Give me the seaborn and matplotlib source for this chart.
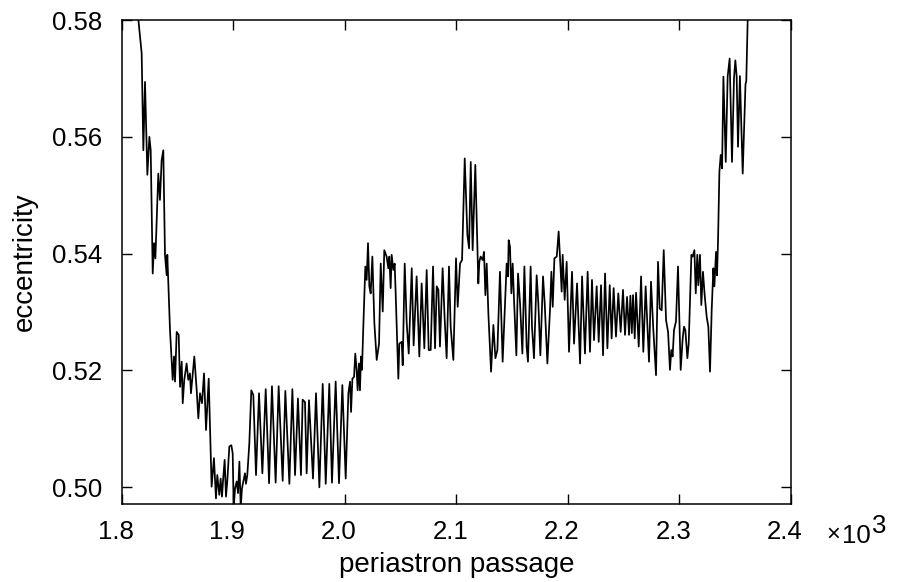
import numpy as np
import pandas as pd
import seaborn as sns
import matplotlib
matplotlib.use("Agg")
import matplotlib.pyplot as plt
from matplotlib.transforms import ScaledTranslation

# ---------------- data ----------------
passage_a = [1812.0, 1817.9, 1819.4, 1820.9, 1823.0, 1824.8, 1826.0, 1827.8, 1829.0, 1830.2,
             1832.8, 1834.3, 1835.8, 1837.3, 1838.8, 1840.3, 1840.9, 1843.3, 1845.7, 1846.9,
             1847.8, 1849.3, 1851.1, 1852.3, 1853.8, 1854.7, 1856.1, 1858.2, 1859.7, 1861.2,
             1862.1, 1865.1, 1867.2, 1868.7, 1870.2, 1872.0, 1873.8, 1875.6, 1878.0]
ecc_a = [0.5858, 0.5743, 0.5577, 0.5694, 0.5535, 0.5600, 0.5577, 0.5366, 0.5418, 0.5392,
         0.5537, 0.5492, 0.5560, 0.5577, 0.5398, 0.5363, 0.5398, 0.5269, 0.5184, 0.5224,
         0.5181, 0.5266, 0.5261, 0.5172, 0.5215, 0.5144, 0.5184, 0.5212, 0.5184, 0.5195,
         0.5161, 0.5224, 0.5167, 0.5118, 0.5161, 0.5144, 0.5195, 0.5098, 0.5186]

passage_b = [1880.6, 1882.7, 1884.5, 1885.7, 1887.5, 1888.7, 1889.9, 1891.1, 1892.3, 1893.5,
             1894.7, 1896.5, 1898.3, 1899.5, 1900.4, 1901.6, 1903.1, 1904.3, 1905.5, 1906.7,
             1907.8, 1909.0, 1910.5, 1911.4, 1912.6, 1914.4, 1916.2, 1918.0]
ecc_b = [0.5001, 0.5050, 0.4981, 0.5021, 0.4987, 0.5015, 0.4984, 0.5018, 0.5047, 0.4984,
         0.5012, 0.5070, 0.5072, 0.5058, 0.4964, 0.4998, 0.5010, 0.4990, 0.5044, 0.4964,
         0.4998, 0.5010, 0.5024, 0.5006, 0.5021, 0.5075, 0.5166, 0.5158]

passage_c = [1920.4, 1923.1, 1926.1, 1929.1, 1932.1, 1934.7, 1938.0, 1940.7, 1944.3, 1946.7,
             1950.3, 1953.0, 1955.4, 1958.0, 1960.7, 1962.2, 1964.3, 1965.8, 1967.9, 1971.5,
             1974.2, 1977.2, 1980.2, 1982.9, 1986.1, 1988.5, 1991.8, 1994.8, 1997.8, 2000.8]
ecc_c = [0.5021, 0.5161, 0.5024, 0.5168, 0.5007, 0.5173, 0.5008, 0.5173, 0.5011, 0.5165,
         0.5006, 0.5168, 0.5021, 0.5152, 0.5021, 0.5150, 0.5146, 0.5024, 0.5149, 0.5015,
         0.5161, 0.5000, 0.5177, 0.5006, 0.5177, 0.5008, 0.5181, 0.5007, 0.5175, 0.5015]

passage_d = [2003.2, 2004.7, 2005.6, 2006.8, 2008.3, 2009.4, 2010.6, 2011.5, 2012.7, 2013.6,
             2014.5, 2015.4, 2016.6, 2018.4, 2019.6, 2020.8, 2022.0, 2023.2, 2024.7, 2026.5,
             2028.6, 2030.7, 2032.2, 2034.0, 2035.4, 2037.5, 2039.0, 2039.9, 2041.1, 2042.0,
             2043.5, 2044.7, 2045.6, 2048.0, 2048.9, 2051.0, 2051.9, 2053.7, 2055.5, 2057.3,
             2060.0, 2061.7, 2064.4, 2066.8, 2068.9, 2071.3, 2073.4, 2075.2, 2077.0, 2079.1,
             2080.9, 2082.4, 2083.9, 2085.3]
ecc_d = [0.5161, 0.5181, 0.5129, 0.5186, 0.5189, 0.5229, 0.5201, 0.5166, 0.5212, 0.5166,
         0.5224, 0.5201, 0.5275, 0.5378, 0.5355, 0.5418, 0.5344, 0.5332, 0.5395, 0.5281,
         0.5218, 0.5246, 0.5383, 0.5301, 0.5406, 0.5395, 0.5375, 0.5395, 0.5341, 0.5398,
         0.5372, 0.5383, 0.5332, 0.5186, 0.5246, 0.5249, 0.5209, 0.5383, 0.5281, 0.5229,
         0.5375, 0.5243, 0.5361, 0.5224, 0.5349, 0.5238, 0.5372, 0.5235, 0.5235, 0.5378,
         0.5238, 0.5344, 0.5338, 0.5241]

passage_e = [2087.7, 2089.5, 2091.3, 2093.4, 2094.9, 2097.3, 2099.7, 2101.2, 2103.3, 2105.1,
             2107.5, 2109.9, 2111.4, 2112.9, 2114.6, 2117.0, 2119.7, 2120.6, 2121.8, 2123.6,
             2124.8, 2126.0, 2127.2, 2128.7, 2131.1, 2133.2, 2135.0, 2136.8, 2139.1, 2141.5,
             2145.1, 2146.3, 2146.9, 2148.1, 2149.3, 2150.5, 2151.7, 2153.8, 2155.3, 2157.1,
             2159.2, 2161.0, 2163.0, 2164.2, 2166.6]
ecc_e = [0.5375, 0.5289, 0.5221, 0.5378, 0.5275, 0.5218, 0.5392, 0.5309, 0.5383, 0.5389,
         0.5563, 0.5432, 0.5409, 0.5557, 0.5406, 0.5552, 0.5349, 0.5386, 0.5395, 0.5389,
         0.5403, 0.5329, 0.5383, 0.5298, 0.5198, 0.5278, 0.5221, 0.5235, 0.5369, 0.5215,
         0.5383, 0.5361, 0.5423, 0.5412, 0.5332, 0.5383, 0.5321, 0.5226, 0.5366, 0.5315,
         0.5229, 0.5378, 0.5241, 0.5215, 0.5378]

passage_f = [2167.8, 2169.6, 2172.0, 2173.5, 2175.3, 2177.7, 2179.2, 2181.6, 2184.0, 2185.2,
             2186.4, 2187.9, 2190.0, 2191.7, 2193.2, 2194.4, 2195.3, 2197.1, 2198.9, 2201.0,
             2203.7, 2205.5, 2208.2, 2210.9, 2212.7, 2215.3, 2217.7, 2219.8, 2221.6, 2223.4,
             2225.8, 2227.6, 2229.7, 2231.5, 2233.3, 2235.4, 2237.5, 2239.2, 2241.0, 2243.1,
             2245.2, 2247.3, 2249.4, 2251.2, 2253.0, 2254.8]
ecc_f = [0.5275, 0.5221, 0.5363, 0.5315, 0.5226, 0.5361, 0.5315, 0.5212, 0.5306, 0.5369,
         0.5309, 0.5392, 0.5395, 0.5438, 0.5383, 0.5335, 0.5398, 0.5321, 0.5386, 0.5232,
         0.5369, 0.5246, 0.5349, 0.5212, 0.5361, 0.5229, 0.5369, 0.5232, 0.5355, 0.5252,
         0.5344, 0.5249, 0.5346, 0.5226, 0.5366, 0.5238, 0.5346, 0.5255, 0.5341, 0.5258,
         0.5332, 0.5266, 0.5338, 0.5261, 0.5326, 0.5261]

passage_g = [2256.0, 2257.3, 2258.4, 2259.9, 2261.1, 2263.5, 2265.6, 2267.6, 2269.7, 2272.7,
             2274.5, 2276.6, 2279.0, 2280.8, 2282.3, 2284.1, 2285.9, 2288.0, 2289.8, 2291.5,
             2292.7, 2293.9, 2295.1, 2296.9, 2298.7, 2301.1, 2302.9, 2304.1, 2305.3, 2307.1,
             2308.3, 2310.7, 2311.9, 2313.4, 2314.6, 2316.0, 2316.9, 2318.4, 2319.6, 2321.1,
             2322.6, 2324.4, 2325.9, 2327.4, 2328.9, 2330.4, 2331.3, 2332.8, 2333.7, 2334.6,
             2335.8, 2337.0, 2338.2, 2339.4, 2341.5, 2343.2, 2345.0, 2347.1, 2348.9, 2350.1,
             2351.3, 2352.5, 2354.2, 2356.7, 2359.2, 2359.9, 2362.0]
ecc_g = [0.5328, 0.5264, 0.5329, 0.5255, 0.5333, 0.5241, 0.5361, 0.5232, 0.5344, 0.5215,
         0.5352, 0.5269, 0.5192, 0.5386, 0.5306, 0.5303, 0.5406, 0.5286, 0.5266, 0.5201,
         0.5235, 0.5224, 0.5269, 0.5284, 0.5378, 0.5201, 0.5255, 0.5275, 0.5269, 0.5221,
         0.5246, 0.5398, 0.5395, 0.5406, 0.5332, 0.5398, 0.5346, 0.5398, 0.5312, 0.5369,
         0.5329, 0.5292, 0.5275, 0.5198, 0.5303, 0.5375, 0.5344, 0.5403, 0.5363, 0.5423,
         0.5540, 0.5569, 0.5546, 0.5703, 0.5557, 0.5703, 0.5734, 0.5557, 0.5700, 0.5731,
         0.5703, 0.5583, 0.5704, 0.5537, 0.5690, 0.5695, 0.5870]

x_ticks = [1800, 1900, 2000, 2100, 2200, 2300, 2400]
x_tick_labels = ["1.8", "1.9", "2.0", "2.1", "2.2", "2.3", "2.4"]
y_ticks = [0.50, 0.52, 0.54, 0.56, 0.58]
y_tick_labels = ["0.50", "0.52", "0.54", "0.56", "0.58"]

passage = passage_a + passage_b + passage_c + passage_d + passage_e + passage_f + passage_g
ecc = ecc_a + ecc_b + ecc_c + ecc_d + ecc_e + ecc_f + ecc_g
df = pd.DataFrame({"periastron passage": passage, "eccentricity": ecc})

# ---------------- style ----------------
sns.set_theme(style="ticks")
plt.rcParams["font.family"] = ["Liberation Sans", "DejaVu Sans"]

W, H = 899, 582
fig = plt.figure(figsize=(W / 100, H / 100), dpi=100)
fig.patch.set_facecolor("white")
ax = fig.add_axes([121.7 / W, 1 - 504.3 / H, (791 - 121.7) / W, (504.3 - 20) / H])
ax.set_facecolor("white")

sns.lineplot(data=df, x="periastron passage", y="eccentricity", ax=ax,
             color="black", linewidth=1.25, estimator=None, sort=False)

ax.set_xlim(1800, 2400)
ax.set_ylim(0.49709, 0.58)
ax.set_xticks(x_ticks)
ax.set_xticklabels(x_tick_labels)
ax.set_yticks(y_ticks)
ax.set_yticklabels(y_tick_labels)

for s in ax.spines.values():
    s.set_visible(True)
    s.set_linewidth(1.1)
    s.set_color("black")

ax.tick_params(axis="both", which="major", direction="in", length=7, width=1.0,
               color="black", labelsize=18.5, labelcolor="black",
               top=True, right=True)
ax.tick_params(axis="x", pad=11.5)
ax.tick_params(axis="y", pad=14)

shift = ScaledTranslation(-6 / 100, 0, fig.dpi_scale_trans)
for lab in ax.get_xticklabels():
    lab.set_transform(lab.get_transform() + shift)

ax.set_xlabel("periastron passage", fontsize=20, color="black")
ax.set_ylabel("eccentricity", fontsize=20, color="black")
ax.xaxis.set_label_coords(0.5, -0.098)
ax.yaxis.set_label_coords(-0.125, 0.5)

# multiplier text
fig.text(826 / W, 1 - 541 / H, "\u00d7", fontsize=17, ha="left", va="baseline", color="black")
fig.text(842 / W, 1 - 543 / H, "10", fontsize=18.5, ha="left", va="baseline", color="black")
fig.text(872 / W, 1 - 533 / H, "3", fontsize=18.5, ha="left", va="baseline", color="black")

fig.savefig("out.png", dpi=100, facecolor="white")
